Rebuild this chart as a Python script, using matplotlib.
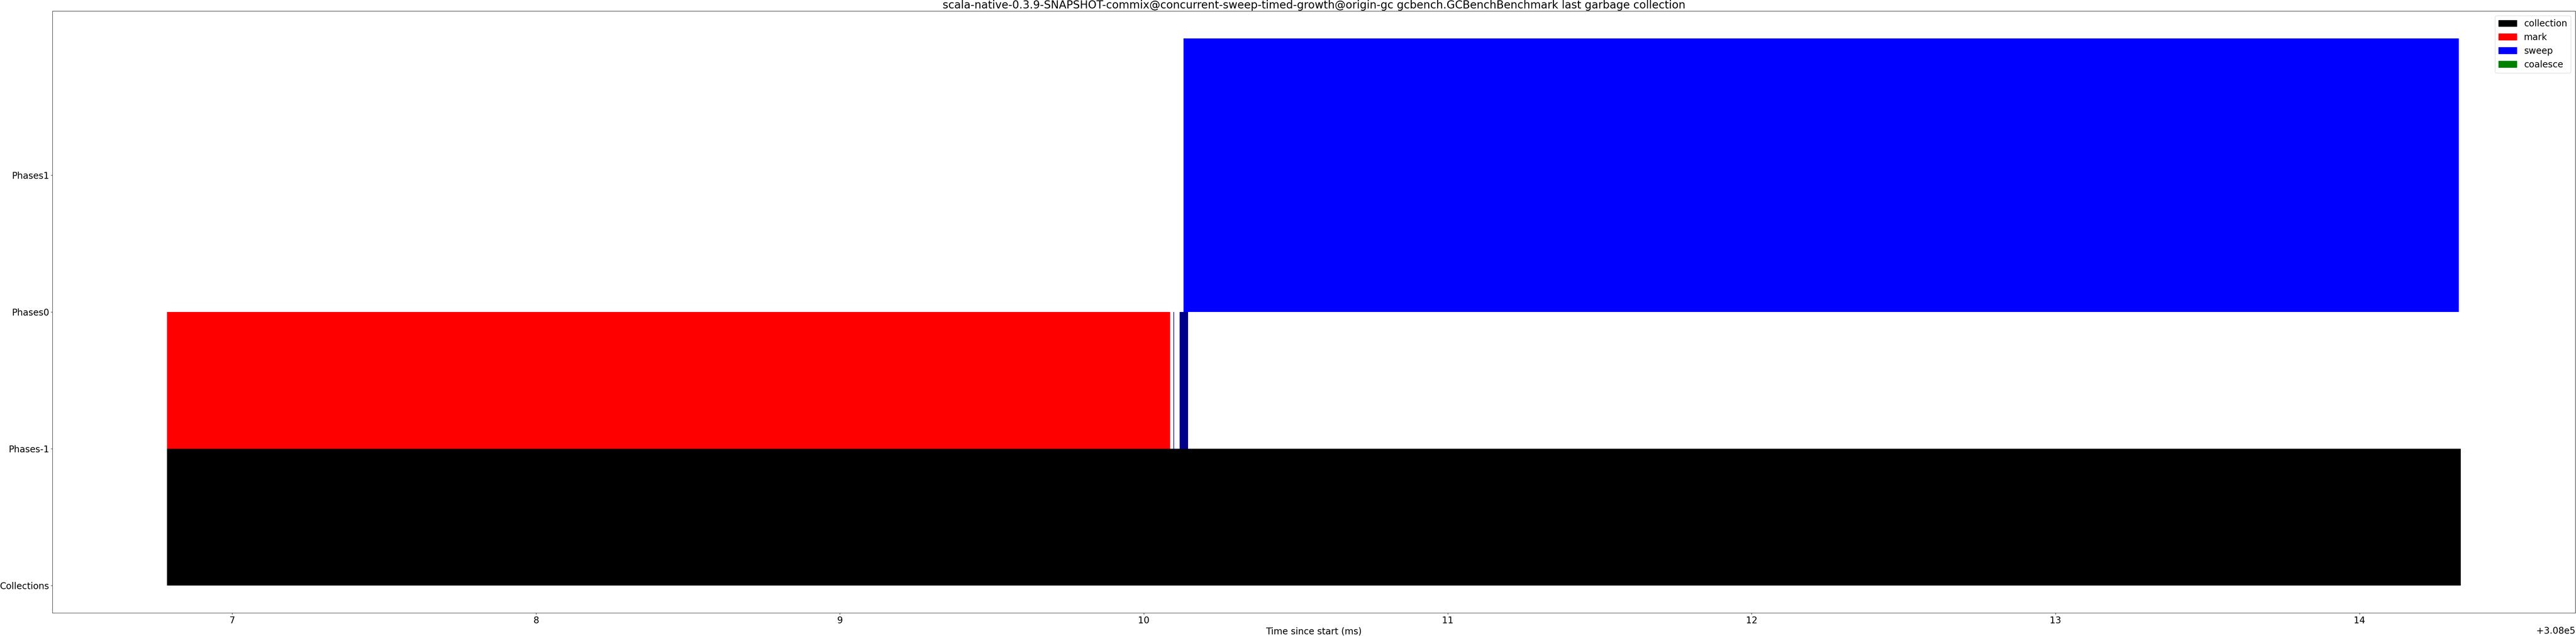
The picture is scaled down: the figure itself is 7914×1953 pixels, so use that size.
import matplotlib
matplotlib.use('Agg')
import matplotlib.pyplot as plt
import matplotlib.patches as mpatches

plt.rcParams['font.size'] = 20

title = 'scala-native-0.3.9-SNAPSHOT-commix@concurrent-sweep-timed-growth@origin-gc gcbench.GCBenchBenchmark last garbage collection'

row_labels = ['Collections', 'Phases-1', 'Phases0', 'Phases1']
row_ticks = [0, 1, 2, 3]

# (start ms, end ms) per event
collection_events = [(308006.786, 308014.333)]
mark_events = [(308006.786, 308010.087)]
sweep_events_low = [(308010.097, 308010.099)]
sweep_dark_events = [(308010.118, 308010.146)]
sweep_events_high = [(308010.131, 308014.327)]

legend_names = ['collection', 'mark', 'sweep', 'coalesce']
legend_colors = ['black', 'red', 'blue', 'green']


def spans(events):
    return [(s, e - s) for s, e in events]


fig = plt.figure(figsize=(79.14, 19.53), dpi=100)
ax = fig.add_subplot(111)
fig.subplots_adjust(left=161 / 7914, right=7912 / 7914, bottom=1 - 1882 / 1953, top=1 - 34 / 1953)

ax.broken_barh(spans(collection_events), (0, 1), facecolors='black', linewidth=0)
ax.broken_barh(spans(mark_events), (1, 1), facecolors='red', linewidth=0)
ax.broken_barh(spans(sweep_events_low), (1, 1), facecolors='blue', linewidth=0)
ax.broken_barh(spans(sweep_dark_events), (1, 1), facecolors='darkblue', linewidth=0)
ax.broken_barh(spans(sweep_events_high), (2, 2), facecolors='blue', linewidth=0)

ax.set_yticks(row_ticks)
ax.set_yticklabels(row_labels)
ax.set_xlabel('Time since start (ms)')
ax.set_title(title)

handles = [mpatches.Patch(color=c, label=n) for n, c in zip(legend_names, legend_colors)]
ax.legend(handles=handles, loc='upper right')

fig.savefig('out.png', dpi=100)
